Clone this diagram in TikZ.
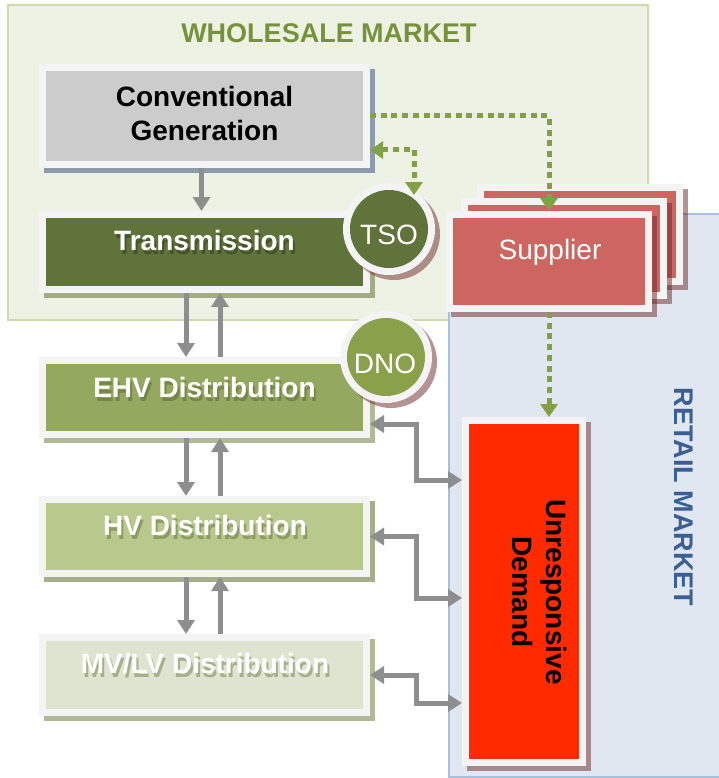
\documentclass[tikz,border=0pt]{standalone}
\usepackage{fontspec}
\setmainfont{Liberation Sans}
\usetikzlibrary{arrows.meta,calc,shadows}
\definecolor{framew}{HTML}{F4F4F4}
\definecolor{cgray}{HTML}{CCCCCC}
\definecolor{cgrayS}{HTML}{8B9DAA}
\definecolor{ctrans}{HTML}{60733A}
\definecolor{ctransS}{HTML}{A3AD85}
\definecolor{ctransT}{HTML}{45552A}
\definecolor{cehv}{HTML}{95A860}
\definecolor{cehvS}{HTML}{B0B998}
\definecolor{cehvT}{HTML}{74864A}
\definecolor{chv}{HTML}{B9C98E}
\definecolor{chvS}{HTML}{A5AE8A}
\definecolor{chvT}{HTML}{8C9C62}
\definecolor{cmv}{HTML}{DFE4D0}
\definecolor{cmvS}{HTML}{B1BA98}
\definecolor{cmvT}{HTML}{A6B08A}
\definecolor{ctso}{HTML}{60733A}
\definecolor{cdno}{HTML}{8AA04A}
\definecolor{csup}{HTML}{CD6660}
\definecolor{cdem}{HTML}{FF2A00}
\definecolor{cshad}{HTML}{6E2828}
\definecolor{garr}{HTML}{8E8E8E}
\definecolor{cgreen}{HTML}{82A044}
\definecolor{wtitle}{HTML}{76933C}
\definecolor{rtitle}{HTML}{3A5F95}
\definecolor{wbg}{HTML}{EEF2E5}
\definecolor{wborder}{HTML}{CBDCAA}
\definecolor{rbg}{HTML}{E0E7F1}
\definecolor{rborder}{HTML}{A7C0E0}
\newcommand\dfont{\fontsize{28}{34}\selectfont}
\newcommand\shtext[2]{\leavevmode\rlap{\hspace{2pt}\raisebox{-4pt}{\textcolor{#1}{#2}}}#2}
\begin{document}
\begin{tikzpicture}[x=1pt,y=-1pt,
  frm/.style={rectangle, fill=framew, inner sep=0pt, outer sep=0pt,
    path picture={\fill[#1] ([shift={(7pt,7pt)}]path picture bounding box.south west) rectangle ([shift={(-7pt,-7pt)}]path picture bounding box.north east);}},
  circfrm/.style={circle, fill=framew, inner sep=0pt, outer sep=0pt, minimum size=92pt,
    path picture={\fill[#1] (path picture bounding box.center) circle (39pt);}},
  opsh/.style={drop shadow={shadow xshift=5pt, shadow yshift=-5pt, fill=#1, opacity=1}},
  trsh/.style={drop shadow={shadow xshift=5pt, shadow yshift=-5pt, fill=cshad, opacity=0.5}},
  lbl/.style={font=\dfont\bfseries, anchor=base, inner sep=0pt, text=white},
  garrow/.style={draw=garr, line width=5pt, -{Triangle[width=17pt,length=14pt]}},
  gdarrow/.style={draw=garr, line width=5pt, {Triangle[width=17pt,length=14pt]}-{Triangle[width=17pt,length=14pt]}},
  darrow/.style={draw=cgreen, line width=5pt, dash pattern=on 6pt off 4.7pt, -{Triangle[width=17pt,length=13pt]}},
  ddarrow/.style={draw=cgreen, line width=5pt, dash pattern=on 6pt off 4.7pt, {Triangle[width=17pt,length=13pt]}-{Triangle[width=17pt,length=13pt]}}
]
\useasboundingbox (0,0) rectangle (718,778);
% market areas
\draw[fill=wbg, draw=wborder, line width=2pt] (8,5) rectangle (648,320);
\draw[fill=rbg, draw=rborder, line width=1.5pt] (449,214) rectangle (724,777);
\node[font=\fontsize{27}{32}\selectfont\bfseries, text=wtitle, anchor=base] (wtitle) at (329,43) {WHOLESALE MARKET};
\node[font=\fontsize{27}{32}\selectfont\bfseries, text=rtitle, rotate=-90, inner sep=0pt] (rtitle) at (684,497) {RETAIL MARKET};

% network boxes
\node[frm=cgray, opsh=cgrayS, minimum width=331pt, minimum height=104pt] (conv) at (204.5,116) {};
\node[font=\dfont\bfseries, align=center] (convt) at (204.5,113) {Conventional\\Generation};

\node[frm=ctrans, opsh=ctransS, minimum width=331pt, minimum height=82pt] (trans) at (204.5,252) {};
\node[lbl] (transt) at (204.5,250) {\shtext{ctransT}{Transmission}};

\node[frm=cehv, opsh=cehvS, minimum width=331pt, minimum height=81pt] (ehv) at (204.5,397.5) {};
\node[lbl] (ehvt) at (204.5,397) {\shtext{cehvT}{EHV Distribution}};

\node[frm=chv, opsh=chvS, minimum width=331pt, minimum height=81pt] (hv) at (204.5,536.5) {};
\node[lbl] (hvt) at (205,535) {\shtext{chvT}{HV Distribution}};

\node[frm=cmv, opsh=cmvS, minimum width=331pt, minimum height=82pt] (mv) at (204.5,675) {};
\node[lbl] (mvt) at (205,673) {\shtext{cmvT}{MV/LV Distribution}};

% operators
\node[circfrm=ctso, trsh] (tso) at (389,229) {};
\node[font=\dfont, text=white, anchor=base, inner sep=0pt] (tsot) at (389,244) {TSO};
\node[circfrm=cdno, trsh] (dno) at (386,357) {};
\node[font=\dfont, text=white, anchor=base, inner sep=0pt] (dnot) at (385,373) {DNO};

% suppliers
\node[frm=csup, trsh, minimum width=206pt, minimum height=101pt] (sup3) at (580,234.5) {};
\node[frm=csup, trsh, minimum width=206pt, minimum height=101pt] (sup2) at (564,248.5) {};
\node[frm=csup, trsh, minimum width=206pt, minimum height=101pt] (sup1) at (549,261.5) {};
\node[font=\dfont, text=white, anchor=base, inner sep=0pt] (supt) at (550,259) {Supplier};

% demand
\node[frm=cdem, trsh, minimum width=124pt, minimum height=349pt] (dem) at (524,591.5) {};
\node[font=\dfont\bfseries, align=center, rotate=-90] (demt) at (539,592) {Unresponsive\\Demand};

% gray flows
\draw[garrow] ([xshift=-3pt]conv.south) -- ([xshift=-3pt]trans.north);
\draw[garrow] ([xshift=-18.5pt]trans.south) -- ([xshift=-18.5pt]ehv.north);
\draw[garrow] ([xshift=15.5pt]ehv.north) -- ([xshift=15.5pt]trans.south);
\draw[garrow] ([xshift=-18.5pt]ehv.south) -- ([xshift=-18.5pt]hv.north);
\draw[garrow] ([xshift=15.5pt]hv.north) -- ([xshift=15.5pt]ehv.south);
\draw[garrow] ([xshift=-18.5pt]hv.south) -- ([xshift=-18.5pt]mv.north);
\draw[garrow] ([xshift=15.5pt]mv.north) -- ([xshift=15.5pt]hv.south);

\draw[gdarrow] ([yshift=-26.5pt]ehv.east) -- ++(46,0) |- ([yshift=111.5pt]dem.west);
\draw[gdarrow] (hv.east) -- ++(46,0) |- ([yshift=-6.5pt]dem.west);
\draw[gdarrow] (mv.east) -- ++(46,0) |- ([yshift=-111.5pt]dem.west);

% green dotted flows
\draw[darrow] (conv.east) -| (sup1.north);
\draw[ddarrow] ([yshift=-34pt]conv.east) -| ($(tso.center)+(25,-34)$);
\draw[darrow] (sup1.south) -- (sup1.south |- dem.north);
\end{tikzpicture}
\end{document}
